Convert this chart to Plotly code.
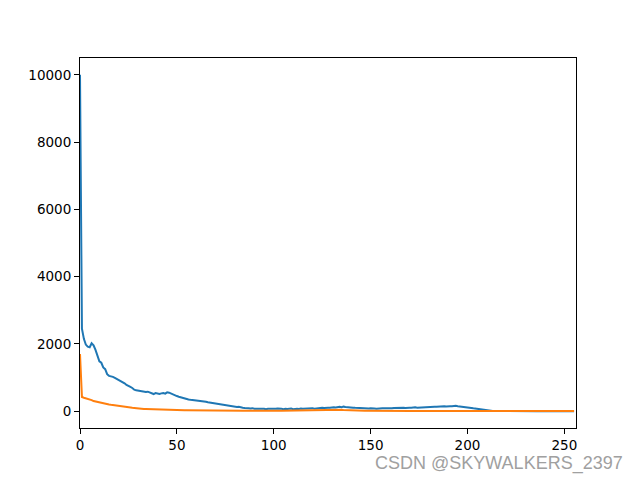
import plotly.graph_objects as go

bins = list(range(256))

blue_counts = [
    10000, 2450, 2150, 1980, 1920, 1900, 2020, 1960, 1820, 1640, 1480, 1440, 1300, 1250, 1100, 1050,
    1040, 1020, 990, 960, 940, 900, 860, 830, 780, 740, 720, 690, 640, 620, 610, 590,
    600, 580, 570, 580, 560, 520, 510, 540, 530, 510, 530, 540, 520, 560, 550, 520,
    500, 470, 450, 430, 410, 400, 380, 370, 350, 340, 335, 320, 315, 300, 310, 290,
    300, 280, 265, 255, 240, 235, 230, 215, 200, 190, 185, 170, 160, 155, 150, 140,
    130, 125, 130, 110, 105, 95, 100, 85, 80, 90, 75, 70, 80, 65, 70, 75,
    60, 70, 65, 75, 60, 70, 80, 65, 70, 60, 75, 65, 70, 80, 60, 70,
    75, 65, 80, 70, 75, 85, 70, 80, 90, 75, 85, 95, 90, 100, 95, 110,
    105, 100, 115, 120, 110, 125, 130, 120, 135, 125, 115, 120, 110, 105, 100, 95,
    100, 90, 95, 85, 90, 80, 85, 90, 80, 75, 85, 80, 90, 85, 80, 95,
    90, 85, 95, 100, 90, 95, 105, 100, 95, 110, 105, 100, 110, 115, 105, 110,
    115, 120, 110, 125, 120, 130, 125, 135, 130, 140, 135, 145, 150, 140, 155, 150,
    145, 155, 160, 150, 145, 140, 130, 125, 115, 105, 95, 85, 75, 65, 55, 45,
    35, 25, 15, 10, 8, 6, 5, 4, 3, 3, 2, 2, 2, 1, 1, 1,
    1, 1, 1, 1, 1, 0, 0, 0, 0, 0, 0, 0, 0, 0, 0, 0,
    0, 0, 0, 0, 0, 0, 0, 0, 0, 0, 0, 0, 0, 0, 0, 0,
]

orange_counts = [
    1700, 420, 400, 385, 370, 350, 330, 300, 285, 270, 260, 250, 240, 230, 215, 200,
    190, 180, 170, 160, 150, 145, 140, 130, 120, 115, 105, 100, 95, 85, 80, 75,
    72, 68, 65, 62, 58, 55, 52, 50, 48, 45, 43, 40, 38, 36, 35, 33,
    32, 30, 30, 28, 27, 26, 25, 24, 23, 22, 22, 21, 20, 20, 19, 18,
    18, 17, 17, 16, 16, 15, 15, 15, 14, 14, 14, 13, 13, 13, 12, 12,
    12, 12, 11, 11, 11, 11, 10, 10, 10, 10, 10, 10, 10, 10, 10, 10,
    10, 10, 10, 10, 10, 11, 11, 12, 12, 13, 13, 14, 15, 16, 17, 18,
    19, 20, 22, 24, 26, 28, 30, 32, 34, 36, 38, 40, 42, 44, 46, 48,
    50, 52, 55, 55, 52, 48, 44, 40, 36, 32, 28, 25, 22, 20, 18, 16,
    15, 14, 13, 12, 11, 10, 10, 9, 9, 8, 8, 8, 7, 7, 7, 7,
    6, 6, 6, 6, 6, 6, 5, 5, 5, 5, 5, 5, 5, 5, 5, 5,
    5, 5, 5, 5, 5, 5, 5, 5, 5, 5, 5, 5, 5, 5, 5, 5,
    5, 5, 5, 5, 5, 5, 5, 5, 5, 5, 5, 5, 5, 5, 5, 5,
    5, 5, 5, 5, 5, 5, 5, 5, 5, 5, 5, 5, 5, 5, 5, 5,
    5, 5, 5, 5, 5, 5, 5, 5, 5, 5, 5, 5, 5, 5, 5, 5,
    5, 5, 5, 5, 5, 5, 5, 5, 5, 5, 5, 5, 5, 5, 5, 5,
]

x_ticks = [0, 50, 100, 150, 200, 250]
y_ticks = [0, 2000, 4000, 6000, 8000, 10000]

fig = go.Figure()
fig.add_trace(go.Scatter(x=bins, y=blue_counts, mode="lines",
                         line=dict(color="#1f77b4", width=2), showlegend=False))
fig.add_trace(go.Scatter(x=bins, y=orange_counts, mode="lines",
                         line=dict(color="#ff7f0e", width=2), showlegend=False))

axis_common = dict(showgrid=False, zeroline=False, showline=True, linecolor="black",
                   linewidth=1, mirror=True, ticks="outside", ticklen=5, tickwidth=1,
                   tickcolor="black", automargin=False,
                   tickfont=dict(family="DejaVu Sans", size=13.5, color="black"))

fig.update_xaxes(range=[0, 256], tickvals=x_ticks, ticktext=[str(v) for v in x_ticks], **axis_common)
fig.update_yaxes(range=[-500, 10500], tickvals=y_ticks, ticktext=[str(v) for v in y_ticks], **axis_common)

fig.add_annotation(text="CSDN @SKYWALKERS_2397", xref="paper", yref="paper",
                   x=1.099, y=-0.096, xanchor="right", yanchor="middle", showarrow=False,
                   font=dict(family="Liberation Sans", size=18, color="#a0a0a0"))

fig.update_layout(width=640, height=480, plot_bgcolor="white", paper_bgcolor="white",
                  margin=dict(l=72, r=72, t=50, b=60))

fig.write_html("out.html")
